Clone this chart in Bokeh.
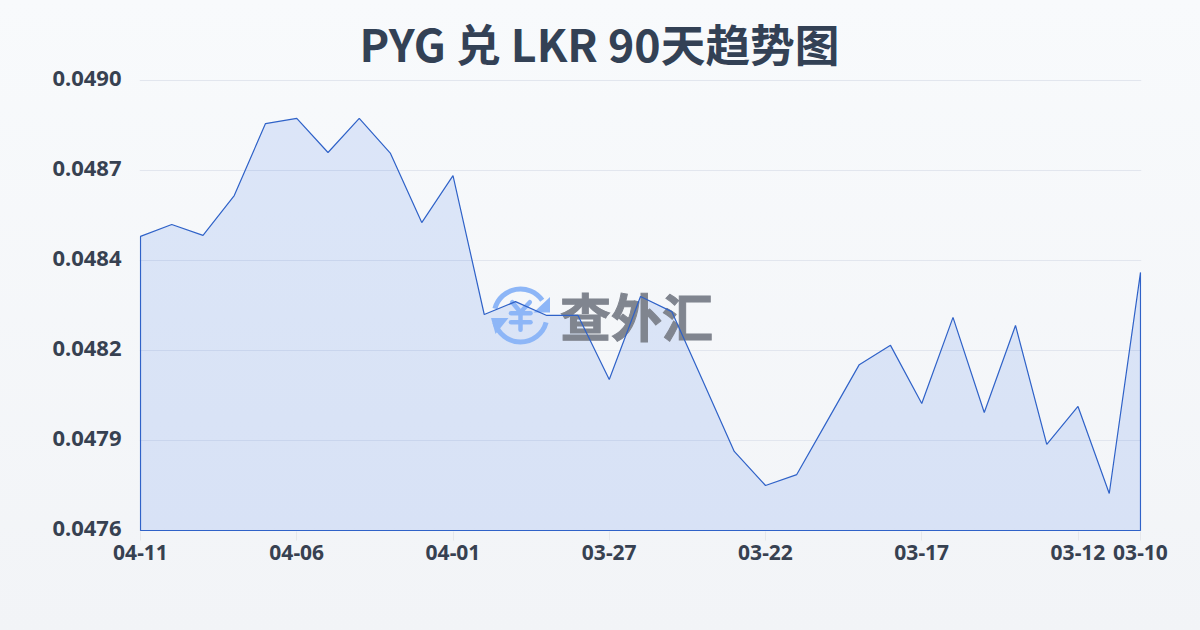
from bokeh.plotting import figure
from bokeh.models import Range1d, FixedTicker, NumeralTickFormatter, Title
from bokeh.embed import file_html
from bokeh.resources import INLINE
from bokeh.core.properties import value

TITLE = "PYG 兑 LKR 90天趋势图"
WATERMARK = "查外汇"
dates = ["04-11","04-10","04-09","04-08","04-07","04-06","04-05","04-04","04-03","04-02","04-01",
         "03-31","03-30","03-29","03-28","03-27","03-26","03-25","03-24","03-23","03-22",
         "03-21","03-20","03-19","03-18","03-17","03-16","03-15","03-14","03-13","03-12","03-11","03-10"]
rates = [0.048515,0.048552,0.048518,0.048642,0.048866,0.048882,0.048776,0.048882,0.048773,0.048558,0.048704,
         0.048272,0.048312,0.048269,0.048269,0.048070,0.048328,0.048281,0.048064,0.047846,0.047740,
         0.047774,0.047945,0.048116,0.048176,0.047995,0.048263,0.047967,0.048238,0.047868,0.047986,0.047715,0.048403]
y_ticks = [0.0476,0.04788,0.04816,0.04844,0.04872,0.0490]
x_tick_idx = [0,5,10,15,20,25,30,32]
Y0, Y1 = 0.0476, 0.0490

W, H = 1200, 630
# slack around the plot so the closed outline is not clipped and the top tick label can shift
dx = (len(rates)-1)/1000
dy = (Y1-Y0)/450
p = figure(width=W, height=H, output_backend="svg", toolbar_location=None,
           x_range=Range1d(-dx, len(rates)-1+dx), y_range=Range1d(Y0-dy, Y1+4*dy),
           min_border_left=139, min_border_right=59, min_border_top=76, min_border_bottom=99,
           background_fill_color=None, border_fill_color=None)
p.title = Title(text=TITLE, align="left", offset=220, standoff=4, text_font="Noto Sans CJK SC",
                text_font_style="bold", text_font_size="44.7px", text_color="#334155")
p.outline_line_color = None
p.xgrid.visible = False
p.ygrid.ticker = FixedTicker(ticks=y_ticks)
p.ygrid.grid_line_color = "#e2e6ee"
p.ygrid.grid_line_width = 1

# labels sit two pixels above their grid lines
p.extra_y_ranges["lab"] = Range1d(Y0-3*dy, Y1+2*dy)
p.yaxis.y_range_name = "lab"
p.yaxis.ticker = FixedTicker(ticks=y_ticks)
p.yaxis.formatter = NumeralTickFormatter(format="0.0000")
p.yaxis.axis_line_color = None
p.yaxis.major_tick_line_color = None
p.yaxis.minor_tick_line_color = None
p.yaxis.major_tick_in = 0
p.yaxis.major_tick_out = 0
p.yaxis.major_label_standoff = 18
p.yaxis.major_label_text_font = "Noto Sans"
p.yaxis.major_label_text_font_style = "bold"
p.yaxis.major_label_text_font_size = "22px"
p.yaxis.major_label_text_color = "#374151"

p.xaxis.ticker = FixedTicker(ticks=x_tick_idx)
p.xaxis.major_label_overrides = {i: dates[i] for i in x_tick_idx}
p.xaxis.axis_line_color = None
p.xaxis.minor_tick_line_color = None
p.xaxis.major_tick_in = 0
p.xaxis.major_tick_out = 9
p.xaxis.major_tick_line_color = "#e5e7eb"
p.xaxis.major_label_standoff = 4
p.xaxis.major_label_text_font = "Noto Sans"
p.xaxis.major_label_text_font_style = "bold"
p.xaxis.major_label_text_font_size = "21px"
p.xaxis.major_label_text_color = "#374151"

xs = list(range(len(rates)))
p.patch(xs + [xs[-1], 0], rates + [Y0, Y0], fill_color="#2563eb", fill_alpha=0.13, line_color=None)

# watermark overlay in a page-pixel range
p.extra_x_ranges["px"] = Range1d(139, 1141)
p.extra_y_ranges["px"] = Range1d(531, 76)
logo = "#8db6f7"
cx, cy = 520, 315
kw = dict(x_range_name="px", y_range_name="px")
p.annular_wedge([cx],[cy],inner_radius=24,outer_radius=29,inner_radius_units="screen",outer_radius_units="screen",
                start_angle=35,end_angle=165,start_angle_units="deg",end_angle_units="deg",
                fill_color=logo,line_color=None,**kw)
p.annular_wedge([cx],[cy],inner_radius=24,outer_radius=29,inner_radius_units="screen",outer_radius_units="screen",
                start_angle=195,end_angle=345,start_angle_units="deg",end_angle_units="deg",
                fill_color=logo,line_color=None,**kw)
p.patch([549.5,549.5,533],[296.5,312,312],fill_color=logo,line_color=None,**kw)
p.patch([490.5,508,495],[317.5,317.5,333.5],fill_color=logo,line_color=None,**kw)
lk = dict(line_color=logo, line_width=4.5, line_cap="round", line_join="round", **kw)
p.line([511.7,520,529.3],[301.7,311.7,301.7],**lk)
p.line([520,520],[311.7,329.3],**lk)
p.line([510.5,530],[312.7,312.7],**lk)
p.line([510.5,530],[321.7,321.7],**lk)
p.text([636],[314],text=[WATERMARK],text_align="center",text_baseline="middle",text_color="#80858f",
       text_font=value("Noto Sans CJK SC"),text_font_style="bold",text_font_size="51px",
       text_outline_color="#80858f",**kw)

p.patch(xs + [xs[-1], 0], rates + [Y0, Y0], fill_color=None, line_color="#2f62c8", line_width=1.2)

html = file_html(p, INLINE)
html = html.replace("<head>", "<head><style>html{min-height:100%;background:linear-gradient(180deg,#f8fafc,#f2f4f7);}body{background:transparent;}</style>", 1)
open("out.html", "w").write(html)
